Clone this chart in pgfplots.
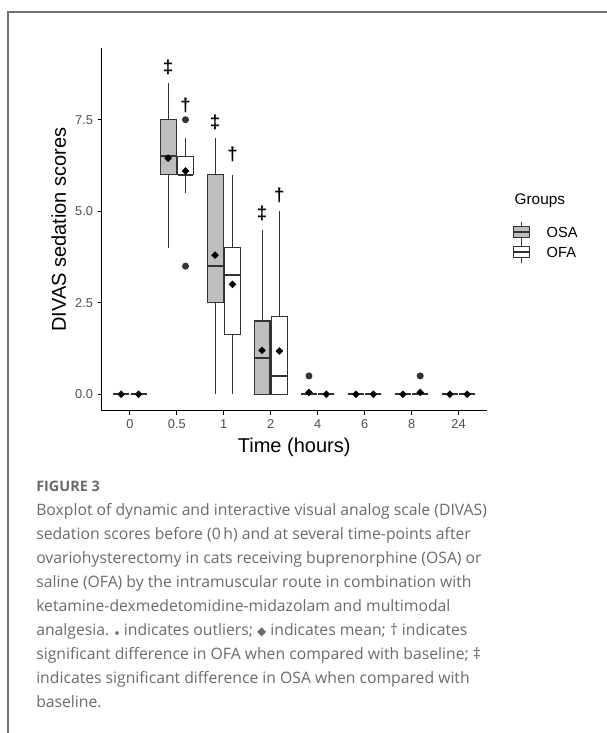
\documentclass[border=0pt]{standalone}
\usepackage{fontspec}
\setmainfont{Liberation Sans}
\newfontfamily\capfont{Open Sans}
\usepackage{pgfplots}
\pgfplotsset{compat=1.18}
\usepgfplotslibrary{statistics}
\definecolor{boxgrey}{HTML}{BEBEBE}
\definecolor{edge}{HTML}{333333}
\definecolor{ticktext}{HTML}{4D4D4D}
\definecolor{capgrey}{HTML}{6A6A6A}
\definecolor{framegrey}{HTML}{707070}

% one box: fill, position, lower whisker, lower quartile, median, upper quartile, upper whisker, outliers
\newcommand\bx[8]{%
  \addplot[draw=edge, fill=#1, line width=0.8pt, mark=*, mark size=2.2pt,
    mark options={draw=edge, fill=edge},
    boxplot prepared={draw position=#2, lower whisker=#3, lower quartile=#4,
      median=#5, upper quartile=#6, upper whisker=#7}]
    coordinates {#8};}

\begin{document}
\begin{tikzpicture}
\begin{scope}[x=0.75pt,y=-0.75pt]
\useasboundingbox (0,0) rectangle (607,733);
\draw[line width=1pt, framegrey] (8,733) -- (8,12) -- (607,12);
\end{scope}

\begin{axis}[at={(76.275pt,-308.025pt)}, anchor=south west,
  scale only axis, width=288.75pt, height=271.8pt,
  xmin=0.4, xmax=8.6, ymin=-0.45, ymax=9.45,
  axis x line=bottom, axis y line=left,
  axis line style={-, line width=0.8pt, black},
  xtick={1,...,8}, xticklabels={0,0.5,1,2,4,6,8,24},
  ytick={0,2.5,5,7.5}, yticklabels={0.0,2.5,5.0,7.5},
  tick align=outside, major tick length=3pt,
  tick style={line width=0.8pt, black},
  tick label style={font=\fontsize{9.6}{11}\selectfont, color=ticktext},
  xlabel={Time (hours)}, ylabel={DIVAS sedation scores},
  label style={font=\fontsize{15}{17}\selectfont},
  boxplot/draw direction=y,
  boxplot/box extend=0.34, boxplot/whisker extend=0,
  boxplot/every median/.style={line width=1.6pt, draw=edge},
  clip=false]

% 0 h
\bx{boxgrey}{0.815}{0}{0}{0}{0}{0}{}
\bx{white}{1.185}{0}{0}{0}{0}{0}{}
% 0.5 h
\bx{boxgrey}{1.815}{4}{6}{6.5}{7.5}{8.5}{}
\bx{white}{2.185}{5.5}{6}{6}{6.5}{7}{(0,7.5) (0,3.5)}
% 1 h
\bx{boxgrey}{2.815}{0}{2.5}{3.5}{6}{7}{}
\bx{white}{3.185}{0}{1.625}{3.25}{4}{6}{}
% 2 h
\bx{boxgrey}{3.815}{0}{0}{1}{2}{4.5}{}
\bx{white}{4.185}{0}{0}{0.5}{2.125}{5}{}
% 4 h
\bx{boxgrey}{4.815}{0}{0}{0}{0}{0}{(0,0.5)}
\bx{white}{5.185}{0}{0}{0}{0}{0}{}
% 6 h
\bx{boxgrey}{5.815}{0}{0}{0}{0}{0}{}
\bx{white}{6.185}{0}{0}{0}{0}{0}{}
% 8 h
\bx{boxgrey}{6.815}{0}{0}{0}{0}{0}{}
\bx{white}{7.185}{0}{0}{0}{0}{0}{(0,0.5)}
% 24 h
\bx{boxgrey}{7.815}{0}{0}{0}{0}{0}{}
\bx{white}{8.185}{0}{0}{0}{0}{0}{}

% group means
\addplot[only marks, mark=square*, mark size=1.8pt,
  mark options={rotate=45, draw=black, fill=black}]
  coordinates {(0.815,0) (1.185,0) (1.815,6.45) (2.185,6.1)
    (2.815,3.8) (3.185,3.0) (3.815,1.2) (4.185,1.18)
    (4.815,0.05) (5.185,0) (5.815,0) (6.185,0)
    (6.815,0) (7.185,0.05) (7.815,0) (8.185,0)};

% significance marks
\begin{scope}[every node/.style={font=\bfseries\fontsize{14}{14}\selectfont}]
\node at (axis cs:1.815,8.93) {‡};
\node at (axis cs:2.185,7.9) {†};
\node at (axis cs:2.815,7.42) {‡};
\node at (axis cs:3.185,6.54) {†};
\node at (axis cs:3.815,4.95) {‡};
\node at (axis cs:4.185,5.42) {†};
\end{scope}
\end{axis}

\begin{scope}[x=0.75pt,y=-0.75pt]
% legend
\node[anchor=west, font=\fontsize{11.5}{13}\selectfont] at (510,201) {Groups};
\foreach \yy/\ff/\lab in {232/boxgrey/OSA, 252/white/OFA}{
  \draw[edge, line width=0.8pt] (521.5,\yy-10.5) -- (521.5,\yy+10.5);
  \filldraw[draw=edge, fill=\ff, line width=0.8pt] (513.5,\yy-5.5) rectangle (529.5,\yy+5.5);
  \draw[edge, line width=1.2pt] (513.5,\yy) -- (529.5,\yy);
  \node[anchor=west, font=\fontsize{11}{12}\selectfont] at (542,\yy) {\lab};
}

% caption
\begin{scope}[every node/.style={anchor=base west, inner sep=0pt, capgrey,
    font=\capfont\fontsize{11.8}{13}\selectfont}]
\node[font=\capfont\bfseries\fontsize{10.8}{12}\selectfont] at (36,491) {FIGURE 3};
\node at (36,515) {Boxplot of dynamic and interactive visual analog scale (DIVAS)};
\node at (36,539) {sedation scores before (0\,h) and at several time-points after};
\node at (36,563) {ovariohysterectomy in cats receiving buprenorphine (OSA) or};
\node at (36,587) {saline (OFA) by the intramuscular route in combination with};
\node at (36,611) {ketamine-dexmedetomidine-midazolam and multimodal};
\node at (36,635) {analgesia. {\fontsize{6}{6}\selectfont$\bullet$} indicates outliers; {\fontspec{DejaVu Sans}\fontsize{9}{9}\selectfont ◆} indicates mean; † indicates};
\node at (36,659) {significant difference in OFA when compared with baseline; ‡};
\node at (36,683) {indicates significant difference in OSA when compared with};
\node at (36,707) {baseline.};
\end{scope}
\end{scope}
\end{tikzpicture}
\end{document}
